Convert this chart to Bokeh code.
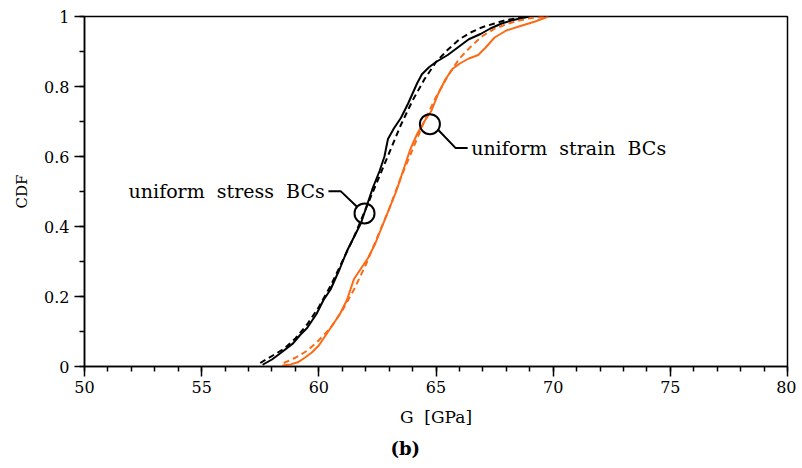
from bokeh.plotting import figure
from bokeh.models import Range1d, Label, Title, CustomJSTickFormatter, FixedTicker
from bokeh.embed import file_html
from bokeh.resources import INLINE

# ---- data ----
stress_emp_G = [57.6, 58.0, 58.4, 58.9, 59.2, 59.5, 59.9, 60.2, 60.5, 60.9, 61.2, 61.5, 61.8, 62.0,
                62.3, 62.6, 62.8, 62.95, 63.2, 63.5, 63.8, 64.0, 64.2, 64.4, 64.7, 65.0, 65.5, 66.0,
                66.4, 66.9, 67.3, 67.8, 68.3, 69.0]
stress_emp_F = [0.005, 0.02, 0.04, 0.066, 0.09, 0.11, 0.15, 0.19, 0.22, 0.28, 0.33, 0.37, 0.41, 0.45,
                0.51, 0.56, 0.60, 0.65, 0.68, 0.71, 0.75, 0.78, 0.81, 0.835, 0.855, 0.87, 0.89, 0.915,
                0.935, 0.95, 0.965, 0.98, 0.99, 1.0]

stress_fit_G = [57.5, 58.0, 58.5, 59.0, 59.5, 60.0, 60.5, 61.0, 61.5, 62.0, 62.5, 63.0, 63.5, 64.0,
                64.5, 65.0, 65.5, 66.0, 66.5, 67.0, 67.5, 68.0, 68.5, 69.0]
stress_fit_F = [0.01, 0.03, 0.05, 0.08, 0.12, 0.17, 0.23, 0.30, 0.37, 0.45, 0.53, 0.61, 0.69, 0.76,
                0.82, 0.87, 0.905, 0.935, 0.955, 0.97, 0.98, 0.99, 0.995, 1.0]

strain_emp_G = [58.45, 58.8, 59.1, 59.4, 59.7, 60.0, 60.3, 60.6, 60.9, 61.2, 61.5, 61.8, 62.1, 62.4,
                62.7, 63.0, 63.3, 63.6, 63.9, 64.2, 64.5, 64.8, 65.1, 65.4, 65.7, 66.0, 66.4, 66.8,
                67.1, 67.5, 68.0, 68.6, 69.2, 69.8]
strain_emp_F = [0.003, 0.006, 0.012, 0.025, 0.04, 0.06, 0.09, 0.12, 0.15, 0.19, 0.25, 0.28, 0.31, 0.35,
                0.40, 0.45, 0.50, 0.56, 0.62, 0.665, 0.70, 0.73, 0.78, 0.82, 0.85, 0.865, 0.88, 0.89,
                0.91, 0.94, 0.96, 0.973, 0.985, 1.0]

strain_fit_G = [58.5, 59.0, 59.5, 60.0, 60.5, 61.0, 61.5, 62.0, 62.5, 63.0, 63.5, 64.0, 64.5, 65.0,
                65.5, 66.0, 66.5, 67.0, 67.5, 68.0, 68.5, 69.0, 69.7]
strain_fit_F = [0.01, 0.025, 0.045, 0.075, 0.11, 0.16, 0.22, 0.29, 0.37, 0.45, 0.54, 0.62, 0.70, 0.77,
                0.83, 0.88, 0.915, 0.945, 0.965, 0.978, 0.988, 0.995, 1.0]

x_ticks = [50, 55, 60, 65, 70, 75, 80]
y_ticks = [0, 0.2, 0.4, 0.6, 0.8, 1.0]

NB = "\u00a0"
label_stress = "uniform" + NB * 2 + "stress" + NB * 2 + "BCs"
label_strain = "uniform" + NB * 2 + "strain" + NB * 2 + "BCs"
x_label = "G" + NB * 2 + "[GPa]"
caption = "(b)"

ORANGE = "#fb6a16"
SERIF = "DejaVu Serif"

p = figure(width=796, height=466, output_backend="svg", toolbar_location=None,
           x_range=Range1d(50, 80), y_range=Range1d(0, 1),
           min_border_left=84, min_border_right=9, min_border_top=16, min_border_bottom=100)

p.grid.visible = False
p.outline_line_color = "black"
p.outline_line_width = 1.5
p.background_fill_color = "white"
p.border_fill_color = "white"

for ax in (p.xaxis[0], p.yaxis[0]):
    ax.axis_line_color = "black"
    ax.axis_line_width = 1.5
    ax.major_tick_in = 0
    ax.major_tick_out = 10
    ax.minor_tick_in = 0
    ax.minor_tick_out = 5
    ax.major_tick_line_width = 1.5
    ax.minor_tick_line_width = 1.5
    ax.major_tick_line_color = "black"
    ax.minor_tick_line_color = "black"
    ax.major_label_text_font = SERIF
    ax.major_label_text_font_size = "16px"
    ax.major_label_text_color = "black"

p.xaxis.ticker = FixedTicker(ticks=x_ticks, minor_ticks=list(range(50, 81)))
p.yaxis.ticker = FixedTicker(ticks=y_ticks, minor_ticks=[i / 10 for i in range(11)])
p.yaxis.formatter = CustomJSTickFormatter(code="return String(Math.round(tick*10)/10);")
p.xaxis.major_label_standoff = 4
p.yaxis.major_label_standoff = 5

p.yaxis.axis_label = "CDF"
p.yaxis.axis_label_text_font = SERIF
p.yaxis.axis_label_text_font_style = "normal"
p.yaxis.axis_label_text_font_size = "15px"
p.yaxis.axis_label_text_color = "black"
p.yaxis.axis_label_standoff = 10

p.xaxis.axis_label = x_label
p.xaxis.axis_label_text_font = SERIF
p.xaxis.axis_label_text_font_style = "normal"
p.xaxis.axis_label_text_font_size = "17px"
p.xaxis.axis_label_text_color = "black"
p.xaxis.axis_label_standoff = 11

p.add_layout(Title(text=caption, align="left", offset=306, text_font=SERIF,
                   text_font_style="bold", text_font_size="18px", text_color="black",
                   standoff=12), "below")

# curves
p.line(stress_emp_G, stress_emp_F, line_color="black", line_width=2)
p.line(stress_fit_G, stress_fit_F, line_color="black", line_width=2, line_dash="6 4")
p.line(strain_emp_G, strain_emp_F, line_color=ORANGE, line_width=2)
p.line(strain_fit_G, strain_fit_F, line_color=ORANGE, line_width=2, line_dash="6 4")

# annotation circles and leaders
p.scatter([61.95], [0.4375], marker="circle", size=20, fill_color=None, line_color="black", line_width=2)
p.scatter([64.74], [0.6925], marker="circle", size=20, fill_color=None, line_color="black", line_width=2)
p.line([61.65, 60.93, 60.41], [0.455, 0.501, 0.501], line_color="black", line_width=2)
p.line([65.11, 65.83, 66.35], [0.675, 0.6246, 0.6246], line_color="black", line_width=2)

p.add_layout(Label(x=60.25, y=0.501, text=label_stress, text_align="right", text_baseline="middle",
                   text_font=SERIF, text_font_size="19px", text_color="black"))
p.add_layout(Label(x=66.5, y=0.6246, text=label_strain, text_align="left", text_baseline="middle",
                   text_font=SERIF, text_font_size="19px", text_color="black"))

open("out.html", "w").write(file_html(p, INLINE))
